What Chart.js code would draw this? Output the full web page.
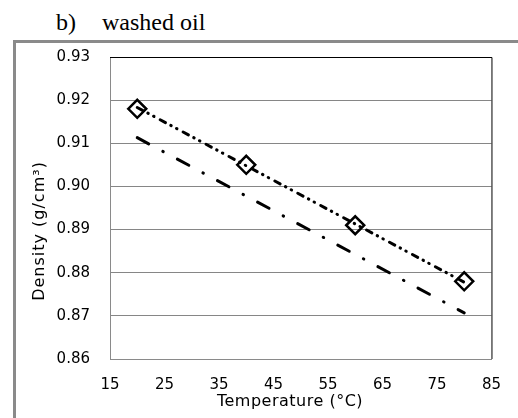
<!DOCTYPE html>
<html>
<head>
<meta charset="utf-8">
<script src="https://cdn.jsdelivr.net/npm/chart.js@4/dist/chart.umd.min.js"></script>
<style>
  html, body { margin: 0; padding: 0; background: #fff; width: 518px; height: 418px; overflow: hidden; }
  .cap { position: absolute; top: 10px; font: 24px/24px "Liberation Serif", "Times New Roman", serif; color: #000; white-space: pre; }
  #frame { position: absolute; left: 13px; top: 40px; width: 520px; height: 400px; border-left: 3px solid #8a8a8a; border-top: 3px solid #8a8a8a; }
  #chart { position: absolute; left: 0; top: 0; }
</style>
</head>
<body>
<div class="cap" style="left:56px">b)</div>
<div class="cap" style="left:102px">washed oil</div>
<div id="frame"></div>
<canvas id="chart" width="518" height="418"></canvas>
<script>
// ---------- Data ----------
const temps = [20, 40, 60, 80];                    // measured points (°C)
const density = [0.918, 0.905, 0.891, 0.878];      // g/cm3
const fitTemps = [20, 80];
const fitUpper = [0.9183, 0.8778];                 // dotted trend through measured
const fitLower = [0.9113, 0.8707];                 // dash-dot line below
const yTicks = [0.86, 0.87, 0.88, 0.89, 0.90, 0.91, 0.92, 0.93];
const xTicks = [15, 25, 35, 45, 55, 65, 75, 85];

const pts = (xs, ys) => xs.map((x, i) => ({ x, y: ys[i] }));

// ---------- Plot box (sides and titles) ----------
const box = {
  id: "box",
  afterDraw(c) {
    const { ctx, chartArea: a } = c;
    ctx.save();
    ctx.strokeStyle = "#000";
    ctx.lineWidth = 1;
    ctx.beginPath();
    ctx.moveTo(a.left, a.top + 0.5);
    ctx.lineTo(a.right + 0.5, a.top + 0.5);
    ctx.lineTo(a.right + 0.5, a.bottom);
    ctx.stroke();
    ctx.fillStyle = "#000";
    ctx.font = '16px "DejaVu Sans"';
    ctx.letterSpacing = "0.5px";
    ctx.textAlign = "center";
    ctx.textBaseline = "middle";
    ctx.fillText("Temperature (°C)", 290, 402);
    ctx.letterSpacing = "1px";
    ctx.translate(40, 231);
    ctx.rotate(-Math.PI / 2);
    ctx.fillText("Density (g/cm³)", 0, 0);
    ctx.restore();
  }
};

new Chart(document.getElementById("chart"), {
  type: "scatter",
  data: {
    datasets: [
      {
        data: pts(temps, density),
        showLine: false,
        pointStyle: "rectRot",
        pointRadius: 9,
        pointBorderWidth: 2.5,
        borderColor: "#000",
        pointBackgroundColor: "rgba(0,0,0,0)",
        order: 0
      },
      {
        data: pts(fitTemps, fitUpper),
        showLine: true,
        pointRadius: 0,
        borderColor: "#000",
        borderWidth: 3,
        borderCapStyle: "round",
        borderDash: [6, 6, 0.5, 6, 0.5, 7],
        order: 1
      },
      {
        data: pts(fitTemps, fitLower),
        showLine: true,
        pointRadius: 0,
        borderColor: "#000",
        borderWidth: 3,
        borderCapStyle: "round",
        borderDash: [13, 16, 0.5, 16],
        order: 2
      }
    ]
  },
  options: {
    responsive: false,
    animation: false,
    events: [],
    layout: { padding: { top: 57, right: 22, left: 0, bottom: 0 } },
    plugins: { legend: { display: false }, tooltip: { enabled: false } },
    scales: {
      x: {
        type: "linear",
        min: xTicks[0],
        max: xTicks[xTicks.length - 1],
        afterBuildTicks: s => { s.ticks = xTicks.map(v => ({ value: v })); },
        afterFit: s => { s.height = 59; },
        grid: { display: false, drawTicks: false },
        border: { color: "#8a8a8a", width: 1 },
        ticks: { padding: 17, color: "#000", font: { family: "DejaVu Sans", size: 15 } }
      },
      y: {
        min: yTicks[0],
        max: yTicks[yTicks.length - 1],
        afterBuildTicks: s => { s.ticks = yTicks.map(v => ({ value: v })); },
        afterFit: s => { s.width = 110; },
        grid: { color: "#868686", lineWidth: 1, drawTicks: false },
        border: { color: "#8a8a8a", width: 1 },
        ticks: {
          padding: 20,
          color: "#000",
          font: { family: "DejaVu Sans", size: 15 },
          callback: v => v.toFixed(2)
        }
      }
    }
  },
  plugins: [box]
});
</script>
</body>
</html>
